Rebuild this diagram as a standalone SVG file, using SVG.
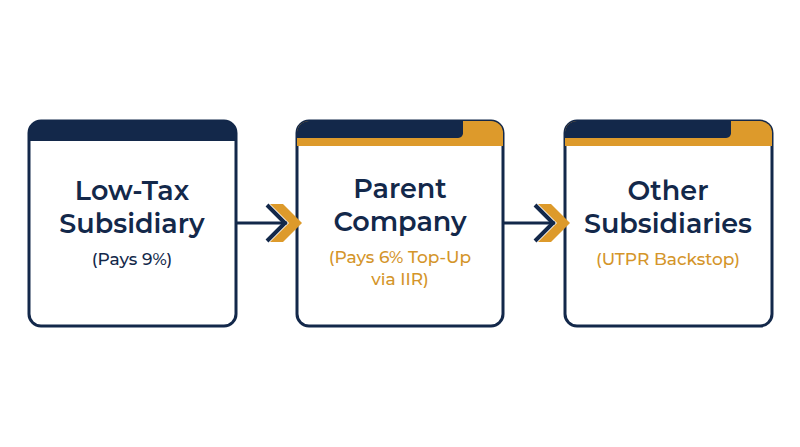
<svg xmlns="http://www.w3.org/2000/svg" width="800" height="447" viewBox="0 0 800 447">
<style>
.box{fill:#fff;stroke:#13284a;stroke-width:3}
.nav{fill:#13284a}
.org{fill:#dd9a2b}
.t{font-family:Montserrat,"Noto Sans","Liberation Sans",sans-serif;font-weight:600;text-anchor:middle;fill:#13284a}
.big{font-size:27px}
.sm{font-size:17px;font-weight:500}
.o{fill:#d4952a}
</style>
<rect width="800" height="447" fill="#fff"/>
<g id="node1">
<rect class="box" x="29" y="121" width="207" height="205" rx="12"/>
<path class="nav" d="M29 141 V133 a12 12 0 0 1 12 -12 H224 a12 12 0 0 1 12 12 V141 Z"/>
<text class="t big" x="132" y="200">Low-Tax</text>
<text class="t big" x="132" y="233">Subsidiary</text>
<text class="t sm" x="132" y="265">(Pays 9%)</text>
</g>
<g id="node2">
<rect class="box" x="297" y="121" width="206" height="205" rx="12"/>
<path class="org" d="M297 146 V133 a12 12 0 0 1 12 -12 H491 a12 12 0 0 1 12 12 V146 Z"/>
<path class="nav" d="M297 138 V133 a12 12 0 0 1 12 -12 H463 V132 a5 5 0 0 1 -5 6 Z"/>
<text class="t big" x="400" y="198">Parent</text>
<text class="t big" x="400" y="231">Company</text>
<text class="t sm o" x="400" y="263">(Pays 6% Top-Up</text>
<text class="t sm o" x="400" y="285">via IIR)</text>
</g>
<g id="node3">
<rect class="box" x="565" y="121" width="207" height="205" rx="12"/>
<path class="org" d="M565 146 V133 a12 12 0 0 1 12 -12 H760 a12 12 0 0 1 12 12 V146 Z"/>
<path class="nav" d="M565 138 V133 a12 12 0 0 1 12 -12 H731 V132 a5 5 0 0 1 -5 6 Z"/>
<text class="t big" x="668" y="200">Other</text>
<text class="t big" x="668" y="233">Subsidiaries</text>
<text class="t sm o" x="668" y="265">(UTPR Backstop)</text>
</g>
<g id="connectors">
<line x1="236" y1="223" x2="287" y2="223" stroke="#13284a" stroke-width="3"/>
<path d="M267 205 L285 223 L267 241" fill="none" stroke="#13284a" stroke-width="4"/>
<path d="M270 204 H283 L302 223 L283 242 H270 L289 223 Z" fill="#dd9a2b"/>
<line x1="503" y1="223" x2="555" y2="223" stroke="#13284a" stroke-width="3"/>
<path d="M535 205 L553 223 L535 241" fill="none" stroke="#13284a" stroke-width="4"/>
<path d="M538 204 H551 L570 223 L551 242 H538 L557 223 Z" fill="#dd9a2b"/>
</g>
</svg>
